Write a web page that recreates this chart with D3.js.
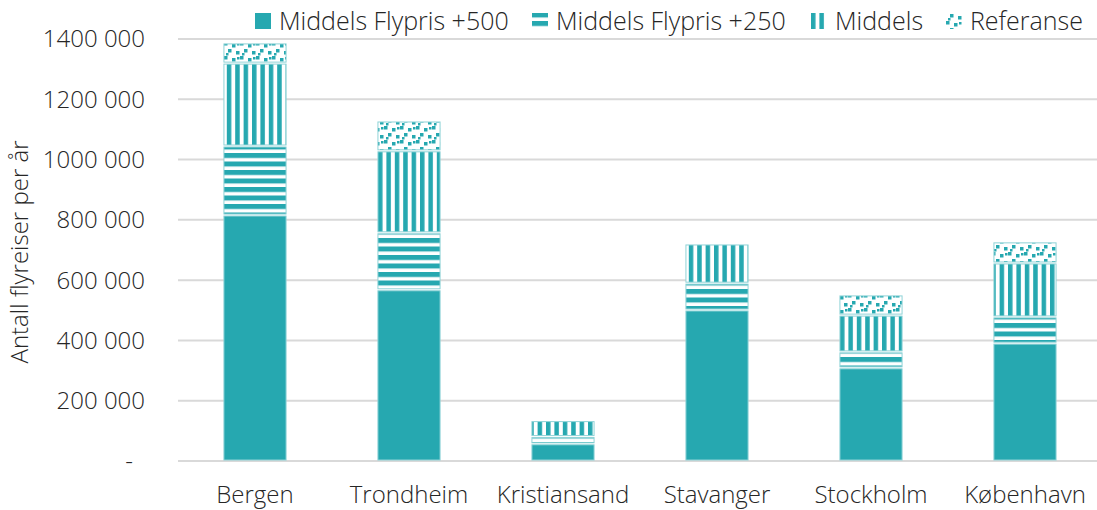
<!DOCTYPE html>
<html>
<head>
<meta charset="utf-8">
<script src="https://cdn.jsdelivr.net/npm/d3@7"></script>
<style>
  html, body { margin: 0; padding: 0; background: #fff; }
  svg { display: block; font-family: "Open Sans", sans-serif; font-weight: 300; }
</style>
</head>
<body>
<div id="graph"></div>
<script>
// Data ///////////////////////////////////////////////////////////////////////
const cities = ["Bergen", "Trondheim", "Kristiansand", "Stavanger", "Stockholm", "København"];
const seriesNames = ["Middels Flypris +500", "Middels Flypris +250", "Middels", "Referanse"];
const flypris500 = [816000, 568000, 57000, 501000, 309000, 391000];
const flypris250 = [229000, 189000, 24000, 89000, 53000, 87000];
const middels = [275000, 272000, 53000, 130000, 122000, 179000];
const referanse = [67000, 99000, 2000, 3000, 67000, 70000];
const yTicks = [0, 200000, 400000, 600000, 800000, 1000000, 1200000, 1400000];

// Layout /////////////////////////////////////////////////////////////////////
const width = 1097;
const height = 510;
const teal = "#26a8b0";
const plot = { left: 178, right: 1102, top: 39, bottom: 461 };

const svg = d3.select("#graph").append("svg")
  .attr("width", width)
  .attr("height", height);

// Fill patterns, one per series
const defs = svg.append("defs");

const pHoriz = defs.append("pattern")
  .attr("id", "p-horiz")
  .attr("patternUnits", "userSpaceOnUse")
  .attr("width", 8).attr("height", 8.5);
pHoriz.append("rect").attr("width", 8).attr("height", 8.5).attr("fill", "#fff");
pHoriz.append("rect").attr("y", 0).attr("width", 8).attr("height", 5).attr("fill", teal);

const pVert = defs.append("pattern")
  .attr("id", "p-vert")
  .attr("patternUnits", "userSpaceOnUse")
  .attr("width", 8.4).attr("height", 8);
pVert.append("rect").attr("width", 8.4).attr("height", 8).attr("fill", "#fff");
pVert.append("rect").attr("x", 0).attr("width", 4.5).attr("height", 8).attr("fill", teal);

// "Confetti" look for the reference series
const pDots = defs.append("pattern")
  .attr("id", "p-dots")
  .attr("patternUnits", "userSpaceOnUse")
  .attr("width", 16).attr("height", 14);
pDots.append("rect").attr("width", 16).attr("height", 14).attr("fill", "#fff");
[[0, 0], [8, 2], [4, 7], [12, 9], [13, 1], [2, 11]].forEach(([x, y], i) => {
  pDots.append("rect")
    .attr("x", x).attr("y", y)
    .attr("width", i < 4 ? 3.5 : 2.5).attr("height", i < 4 ? 3.5 : 2.5)
    .attr("fill", teal);
});

const fills = [teal, "url(#p-horiz)", "url(#p-vert)", "url(#p-dots)"];

// Scales
const x = d3.scaleBand()
  .domain(cities)
  .range([plot.left, plot.right])
  .paddingInner(0.59)
  .paddingOuter(0.295);

const y = d3.scaleLinear()
  .domain([0, 1400000])
  .range([plot.bottom, plot.top]);

// Gridlines
svg.append("g")
  .selectAll("line")
  .data(yTicks)
  .join("line")
  .attr("x1", plot.left)
  .attr("x2", width)
  .attr("y1", d => y(d))
  .attr("y2", d => y(d))
  .attr("stroke", "#d9d9d9")
  .attr("stroke-width", 2);

// Y tick labels (accounting style, zero shown as "-")
const fmt = d => d === 0 ? "-" : d3.format(",")(d).replace(/,(?=\d{3}$)/, " ").replace(/,/g, "");
svg.append("g")
  .selectAll("text")
  .data(yTicks)
  .join("text")
  .attr("x", d => d === 0 ? 133 : 145)
  .attr("y", d => y(d))
  .attr("dy", "0.35em")
  .attr("text-anchor", "end")
  .attr("fill", "#262626")
  .style("font-size", "24px")
  .text(fmt);

// Y axis title
svg.append("text")
  .attr("transform", `translate(28, ${(plot.top + plot.bottom) / 2 + 2}) rotate(-90)`)
  .attr("text-anchor", "middle")
  .attr("fill", "#262626")
  .style("font-size", "24px")
  .text("Antall flyreiser per år");

// Stacked bars
const rows = cities.map((c, i) => ({
  city: c,
  s0: flypris500[i],
  s1: flypris250[i],
  s2: middels[i],
  s3: referanse[i],
}));
const stacked = d3.stack().keys(["s0", "s1", "s2", "s3"])(rows);

const layers = svg.append("g")
  .selectAll("g")
  .data(stacked)
  .join("g")
  .attr("fill", (d, i) => fills[i]);

layers.selectAll("rect")
  .data(d => d)
  .join("rect")
  .attr("x", d => x(d.data.city) + 0.5)
  .attr("width", x.bandwidth() - 1)
  .attr("y", d => y(d[1]) + 1)
  .attr("height", d => Math.max(0, y(d[0]) - y(d[1]) - 2))
  .attr("stroke", "#8fd3d7")
  .attr("stroke-width", 1);

// Category labels
svg.append("g")
  .selectAll("text")
  .data(cities)
  .join("text")
  .attr("x", d => x(d) + x.bandwidth() / 2)
  .attr("y", 503)
  .attr("text-anchor", "middle")
  .attr("fill", "#262626")
  .style("font-size", "24px")
  .text(d => d);

// Legend
const legendX = [255, 532, 811, 946];
const legend = svg.append("g")
  .selectAll("g")
  .data(seriesNames)
  .join("g")
  .attr("transform", (d, i) => `translate(${legendX[i]}, 21)`);

legend.append("rect")
  .attr("x", 0)
  .attr("y", -8)
  .attr("width", 16)
  .attr("height", 16)
  .attr("fill", (d, i) => fills[i]);

legend.append("text")
  .attr("x", 24)
  .attr("y", 0)
  .attr("dy", "0.35em")
  .attr("fill", "#262626")
  .style("font-size", "25px")
  .text(d => d);
</script>
</body>
</html>
